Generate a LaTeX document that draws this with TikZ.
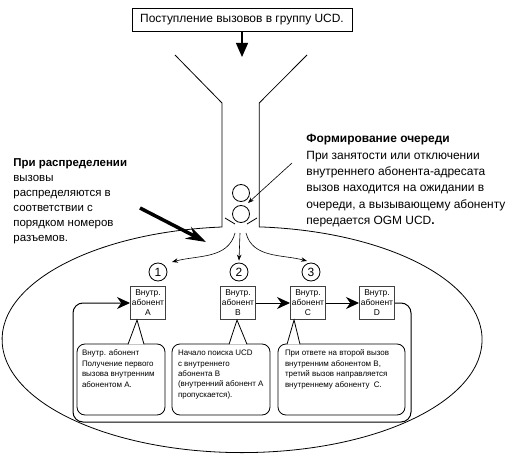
\documentclass[tikz,border=0pt]{standalone}
\usepackage{fontspec}
\setmainfont{Liberation Sans}
\usetikzlibrary{positioning, arrows.meta}

\begin{document}
\begin{tikzpicture}[x=1bp, y=1bp, line width=0.8bp,
ext/.style={rectangle, draw=black!75, line width=1bp, minimum width=35bp, minimum height=33bp, inner sep=0.5bp, font=\fontsize{8.5}{10}\selectfont, align=center},
num/.style={circle, draw, minimum size=18bp, inner sep=0pt, font=\fontsize{12}{12}\selectfont},
bubble/.style={rectangle, draw, rounded corners=8bp, minimum height=71bp, inner sep=0pt},
note/.style={anchor=north west, align=left, inner sep=0pt, font=\fontsize{8}{10.5}\selectfont},
hop/.style={-{Stealth[length=13bp, width=12bp]}, line width=1bp},
leg/.style={-{Stealth[length=6bp, width=4.5bp]}, line width=0.6bp}
]
\useasboundingbox (0,0) rectangle (523,-473);

\node[draw, minimum width=220bp, minimum height=23bp, inner sep=0pt, font=\fontsize{12}{14}\selectfont] (inflow) at (242,-20) {Поступление вызовов в группу UCD.};
\coordinate (mouth) at (242,-57);
\draw[-{Triangle[length=14bp, width=12bp]}, line width=1.2bp] (inflow) -- (mouth);

% funnel and hall
\draw (175,-55) -- (222,-103) -- (222,-227) arc[start angle=94.8, end angle=445.9, x radius=240bp, y radius=113bp] -- (259.2,-103) -- (307,-55);

% queue
\node[circle, draw, minimum size=17bp] (wait1) at (241,-193) {};
\node[circle, draw, minimum size=17bp] (wait2) at (241,-214) {};
\draw ([shift={(-16,-4)}]wait2.center) -- ([shift={(-6,-10)}]wait2.center);
\draw ([shift={(16,-4)}]wait2.center) -- ([shift={(6,-10)}]wait2.center);
\coordinate (fork) at (241,-233);

\node[num] (num1) at (158,-272) {1};
\node[num] (num2) at (239,-272) {2};
\node[num] (num3) at (311,-272) {3};
\draw[leg] ([xshift=-6]fork) to[out=-105, in=15] ([shift={(14,10)}]num1.center);
\draw[leg] ([xshift=-1]fork) -- ([yshift=2]num2.north);
\draw[leg] ([xshift=5]fork) to[out=-75, in=165] ([shift={(-4,11)}]num3.center);

% stations
\node[ext] (extA) at (148,-303) {Внутр.\\абонент\\A};
\node[ext] (extB) at (238,-303) {Внутр.\\абонент\\B};
\node[ext] (extC) [right=34bp of extB] {Внутр.\\абонент\\C};
\node[ext] (extD) [right=33bp of extC] {Внутр.\\абонент\\D};
\path[hop, draw] (extB) -- (extC);
\path[hop, draw] (extC) -- (extD);
\draw[hop, rounded corners=10bp] (extD.east) -| (411,-422) -| (73,-303) -- (extA.west);

% callouts
\node[bubble, minimum width=88bp] (noteA) at (121,-379.5) {};
\node[bubble, minimum width=98bp] (noteB) at (221,-379.5) {};
\node[bubble, minimum width=127bp] (noteC) at (341.5,-379.5) {};
\draw[fill=white] ([shift={(7,-0.7)}]noteA.north) -- ([xshift=-11]extA.south) -- ([shift={(23,-0.7)}]noteA.north);
\draw[fill=white] ([shift={(8,-0.7)}]noteB.north) -- ([xshift=-1]extB.south) -- ([shift={(26,-0.7)}]noteB.north);
\draw[fill=white] ([shift={(-54.5,-0.7)}]noteC.north) -- ([xshift=-14]extC.south) -- ([shift={(-41.5,-0.7)}]noteC.north);
\node[note] (txtA) at ([shift={(5,-6)}]noteA.north west) {Внутр. абонент\\Получение первого\\вызова внутренним\\абонентом A.};
\node[note] (txtB) at ([shift={(6,-6)}]noteB.north west) {Начало поиска UCD\\с внутреннего\\абонента B\\(внутренний абонент A\\пропускается).};
\node[note] (txtC) at ([shift={(7,-6)}]noteC.north west) {При ответе на второй вызов\\внутренним абонентом B,\\третий вызов направляется\\внутреннему абоненту\ \ C.};

% side texts
\node[anchor=north west, align=left, inner sep=0pt, font=\fontsize{11.5}{15}\selectfont] (disttxt) at (13,-158) {\textbf{При распределении}\\вызовы\\распределяются в\\соответствии с\\порядком номеров\\разъемов.};
\node[anchor=north west, align=left, inner sep=0pt, font=\fontsize{12}{16.5}\selectfont] (queuetxt) at (306,-134) {\textbf{Формирование очереди}\\При занятости или отключении\\внутреннего абонента-адресата\\вызов находится на ожидании в\\очереди, а вызывающему абоненту\\передается OGM UCD\textbf{.}};
\coordinate (qtail) at (292,-163);
\draw[leg] (qtail) -- ([shift={(7,11)}]wait2.center);
\coordinate (dtail) at (140,-208);
\coordinate (dtip) at (206,-242);
\draw[-{Stealth[length=20bp, width=13bp]}, line width=3.5bp] (dtail) -- (dtip);
\end{tikzpicture}
\end{document}
